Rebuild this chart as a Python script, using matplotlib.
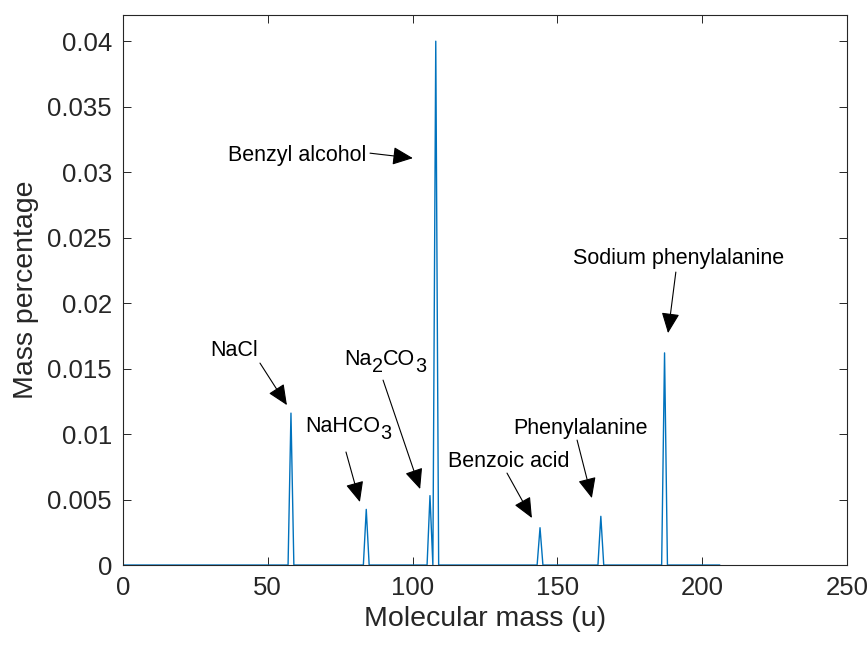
import numpy as np
import matplotlib
matplotlib.use("Agg")
import matplotlib.pyplot as plt
import matplotlib.transforms as transforms

plt.rcParams['font.family'] = ['Liberation Sans', 'DejaVu Sans']

# peaks of the mass spectrum (molecular mass in u, mass percentage)
peak_mass = [58, 84, 106, 108, 144, 165, 187]
peak_pct = [0.0116, 0.00425, 0.0053, 0.0400, 0.00285, 0.00372, 0.0162]
mass_max = 206

# labels: pieces (text, is_subscript), text centre, arrow tail, arrow tip (data coords)
labels = [[("Benzyl alcohol", 0)],
          [("NaCl", 0)],
          [("NaHCO", 0), ("3", 1)],
          [("Na", 0), ("2", 1), ("CO", 0), ("3", 1)],
          [("Benzoic acid", 0)],
          [("Phenylalanine", 0)],
          [("Sodium phenylalanine", 0)]]
label_xy = [(60.1, 0.0313), (38.3, 0.0164), (77.7, 0.0106), (90.5, 0.0157),
            (133.3, 0.0079), (158.1, 0.01046), (192.0, 0.02344)]
arrow_tail = [(85.3, 0.03145), (47.3, 0.01542), (77.0, 0.00863), (89.8, 0.01412),
              (132.6, 0.00702), (156.8, 0.00954), (190.9, 0.02237)]
arrow_tip = [(100.1, 0.03107), (56.6, 0.01221), (81.8, 0.00481), (102.6, 0.0058),
             (141.2, 0.00359), (161.9, 0.00511), (188.2, 0.01771)]

mass = np.arange(0, mass_max + 1)
pct = np.zeros(len(mass))
pct[peak_mass] = peak_pct

grey = (0.15, 0.15, 0.15)
fig = plt.figure(figsize=(8.68, 6.47), dpi=100)
ax = fig.add_axes([0.1417, 0.1267, 0.8341, 0.8501])
ax.plot(mass, pct, color='#0072BD', lw=1.0)

ax.set_xlim(0, 250)
ax.set_ylim(0, 0.042)
ax.set_xticks(np.arange(0, 251, 50))
yt = np.arange(0, 0.0401, 0.005)
ax.set_yticks(yt)
ax.set_yticklabels(['%g' % round(v, 3) for v in yt])
ax.tick_params(direction='in', length=6, width=0.7, colors=grey, labelsize=18.5,
               top=True, right=True, pad=8)
for s in ax.spines.values():
    s.set_color(grey)
    s.set_linewidth(0.8)
ax.set_xlabel("Molecular mass (u)", fontsize=20.5, color=grey, labelpad=4)
ax.set_ylabel("Mass percentage", fontsize=20.5, color=grey, labelpad=6)

fs = 15.5
renderer = fig.canvas.get_renderer()
for pieces, pos, tail, tip in zip(labels, label_xy, arrow_tail, arrow_tip):
    # write pieces one after another, subscripts dropped, then centre the group
    texts = []
    x_off = 0
    for s, sub in pieces:
        tr = transforms.offset_copy(ax.transData, fig=fig, x=x_off,
                                    y=-7 if sub else 0, units='dots')
        t = ax.text(pos[0], pos[1], s, fontsize=fs * 0.92 if sub else fs,
                    ha='left', va='center', transform=tr)
        texts.append((t, x_off, sub))
        x_off += t.get_window_extent(renderer).width
    shift = -x_off / 2
    for t, xo, sub in texts:
        t.set_transform(transforms.offset_copy(ax.transData, fig=fig, x=xo + shift,
                                               y=-7 if sub else 0, units='dots'))
    ax.annotate('', xy=tip, xytext=tail,
                arrowprops=dict(arrowstyle='-|>,head_length=0.9,head_width=0.4',
                                color='black', lw=0.8, shrinkA=0, shrinkB=0,
                                mutation_scale=14))

fig.savefig('out.png', dpi=100)
